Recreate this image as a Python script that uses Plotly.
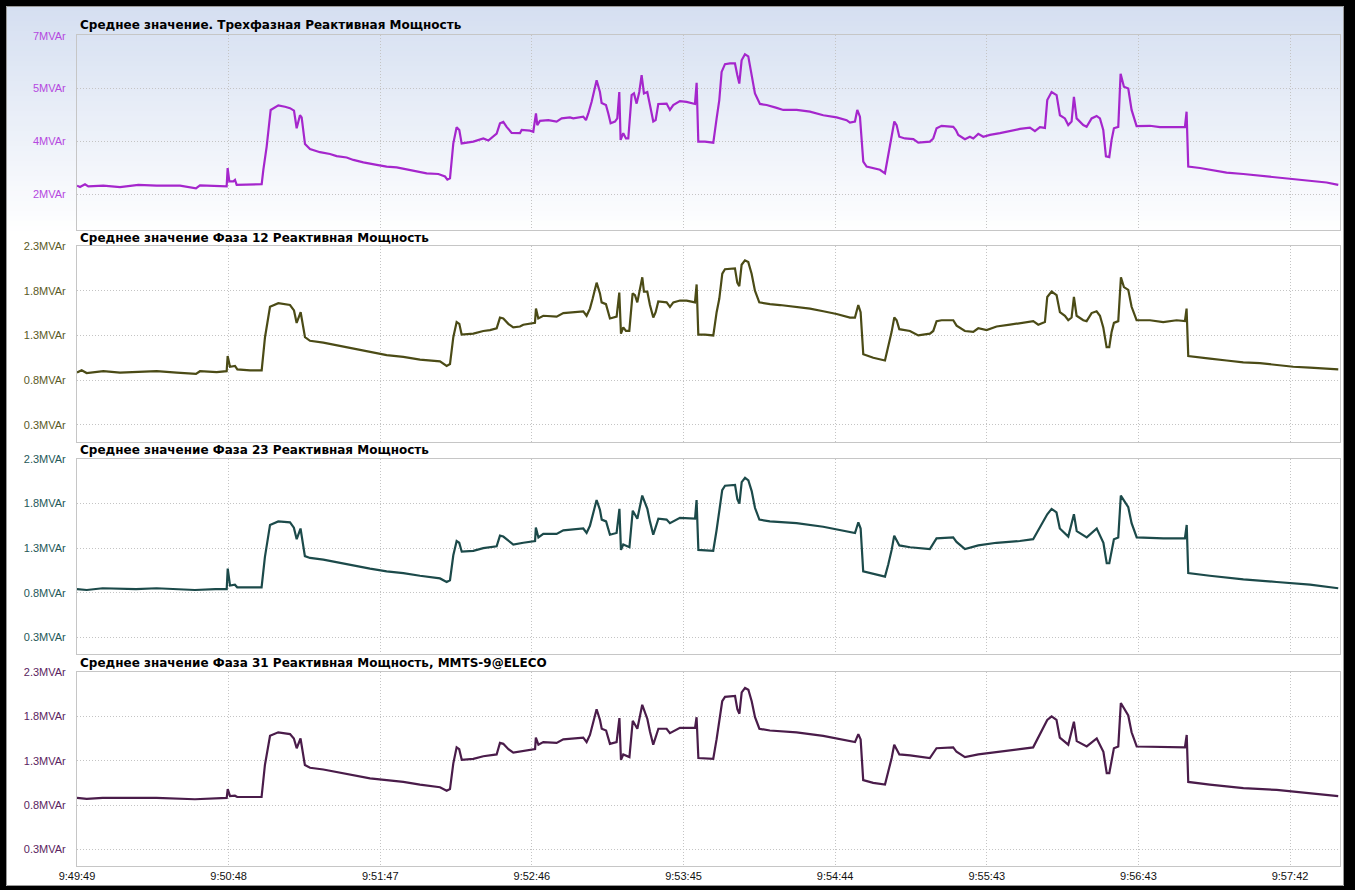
import plotly.graph_objects as go

# ---------------- data (seconds after 9:49:49, values in MVAr) ----------------
T_TOTAL = [0.0, 1.17, 3.12, 4.42, 10.27, 16.77, 23.93, 31.08, 40.18, 46.42, 47.98, 54.48, 58.38,
           58.77, 59.42, 60.98, 61.63, 62.29, 67.49, 72.04, 72.69, 73.99, 75.55, 78.54, 81.14,
           83.09, 84.65, 85.69, 86.99, 87.64, 88.94, 90.89, 94.79, 98.69, 101.29, 105.19, 107.8,
           111.7, 116.9, 120.8, 124.7, 128.6, 132.5, 136.4, 140.96, 143.56, 144.47, 145.51, 146.8,
           148.1, 149.14, 150.05, 154.61, 158.51, 160.46, 163.71, 165.01, 166.3, 167.6, 169.55,
           172.8, 173.45, 176.7, 178.0, 179.04, 179.56, 180.6, 183.86, 187.1, 189.06, 192.3, 193.6,
           197.5, 198.55, 199.46, 200.76, 202.71, 204.0, 204.66, 206.35, 207.26, 208.17, 209.86,
           210.77, 211.55, 212.07, 213.1, 214.15, 215.06, 216.36, 217.27, 218.31, 219.35, 220.26,
           221.17, 222.47, 223.51, 224.81, 225.73, 226.76, 230.0, 231.3, 232.6, 235.2, 237.8,
           241.07, 241.72, 242.37, 244.97, 248.22, 249.52, 250.56, 251.47, 252.77, 254.72, 256.67,
           257.58, 258.36, 259.27, 260.57, 261.87, 263.17, 264.47, 266.42, 269.02, 272.93, 275.53,
           280.73, 285.93, 291.13, 296.33, 300.23, 301.53, 303.48, 304.39, 305.43, 306.73, 308.03,
           310.63, 313.23, 315.19, 316.49, 317.79, 318.83, 319.74, 320.78, 322.99, 326.24, 328.18,
           332.73, 334.03, 335.33, 337.28, 339.23, 341.83, 342.87, 343.78, 346.38, 348.33, 349.64,
           351.59, 353.54, 356.14, 360.04, 363.94, 367.84, 371.74, 373.69, 375.64, 377.59, 378.5,
           380.19, 382.14, 383.44, 385.39, 386.69, 387.99, 388.9, 389.95, 392.55, 393.85, 395.8,
           397.75, 399.05, 400.35, 401.39, 402.69, 403.6, 404.51, 406.2, 407.11, 408.41, 410.1,
           411.4, 413.35, 418.55, 422.45, 427.65, 432.2, 432.85, 433.5, 438.05, 441.96, 448.46,
           454.96, 461.46, 467.96, 474.46, 480.97, 487.47, 492.02]
V_TOTAL = [2.54, 2.50, 2.58, 2.52, 2.54, 2.50, 2.56, 2.54, 2.54, 2.46, 2.55, 2.52, 2.52,
           3.04, 2.66, 2.66, 2.70, 2.56, 2.56, 2.58, 2.99, 3.65, 4.69, 4.82, 4.78,
           4.74, 4.67, 4.17, 4.54, 4.48, 3.72, 3.58, 3.49, 3.44, 3.38, 3.34, 3.27,
           3.20, 3.13, 3.08, 3.06, 3.01, 2.94, 2.89, 2.87, 2.80, 2.71, 2.75, 3.74,
           4.20, 4.12, 3.74, 3.79, 3.88, 3.82, 4.02, 4.31, 4.35, 4.21, 4.04,
           4.03, 4.12, 4.10, 4.07, 4.59, 4.26, 4.38, 4.40, 4.36, 4.45, 4.48, 4.45,
           4.50, 4.40, 4.59, 4.92, 5.53, 5.20, 4.89, 4.83, 4.59, 4.31, 4.36,
           4.45, 5.20, 3.84, 4.03, 3.88, 3.88, 5.11, 5.16, 4.87, 5.20, 5.68,
           5.16, 5.20, 4.83, 4.36, 4.40, 4.86, 4.87, 4.69, 4.83, 4.94, 4.92,
           4.86, 5.46, 3.79, 3.79, 3.76, 4.45, 4.97, 5.77, 5.99, 6.01, 6.01,
           5.68, 5.44, 6.10, 6.27, 6.21, 5.72, 5.16, 4.86, 4.83, 4.75, 4.69,
           4.69, 4.64, 4.54, 4.48, 4.40, 4.33, 4.36, 4.69, 4.50, 3.22, 3.08,
           3.04, 2.99, 2.89, 3.46, 3.93, 4.36, 4.26, 3.93, 3.88, 3.86, 3.76,
           3.79, 3.88, 4.17, 4.24, 4.23, 4.21, 4.12, 3.98, 3.86, 3.93, 3.88,
           4.01, 3.93, 3.98, 4.03, 4.10, 4.15, 4.19, 4.09, 4.20, 4.18, 4.97,
           5.20, 5.11, 4.54, 4.45, 4.26, 4.36, 5.06, 4.45, 4.26, 4.21, 4.45,
           4.52, 4.45, 4.12, 3.37, 3.35, 3.84, 4.17, 4.21, 5.72, 5.35, 5.30,
           4.69, 4.23, 4.24, 4.20, 4.21, 4.20, 4.64, 3.08, 3.04, 2.99, 2.91,
           2.87, 2.82, 2.78, 2.72, 2.69, 2.63, 2.56]

T_P12 = [0.0, 1.82, 3.77, 10.27, 16.77, 23.28, 31.08, 38.88, 46.42, 47.98, 54.48, 58.38, 58.77,
         59.68, 61.63, 62.55, 67.49, 72.04, 73.34, 75.29, 78.54, 83.09, 84.65, 85.69, 87.25,
         88.94, 90.89, 96.09, 101.29, 107.8, 114.3, 120.8, 127.3, 133.8, 141.6, 144.2, 145.51,
         146.8, 148.1, 149.14, 150.05, 154.61, 158.51, 161.11, 163.71, 165.01, 166.3, 168.25,
         170.2, 172.8, 174.1, 177.74, 178.65, 179.04, 179.95, 181.9, 187.1, 189.71, 192.96,
         197.5, 198.8, 200.1, 201.15, 202.71, 204.01, 204.66, 206.35, 207.91, 210.51, 211.55,
         212.2, 213.1, 214.15, 215.45, 216.75, 217.66, 218.57, 219.61, 220.52, 221.17, 222.47,
         223.51, 224.81, 225.73, 226.76, 230.02, 231.32, 232.62, 235.22, 237.82, 241.07, 241.72,
         242.37, 244.97, 248.22, 249.52, 250.56, 251.73, 252.77, 256.67, 257.58, 258.36, 259.27,
         260.57, 261.87, 263.17, 264.47, 266.16, 270.33, 274.23, 280.73, 285.93, 291.13, 296.33,
         301.53, 303.48, 304.78, 305.69, 306.73, 310.63, 315.19, 316.49, 317.79, 318.83, 319.74,
         320.78, 324.94, 328.18, 332.73, 334.03, 335.33, 337.28, 341.83, 343.13, 346.38, 349.64,
         351.59, 354.84, 358.74, 363.94, 367.84, 373.04, 374.99, 377.59, 378.5, 380.19, 382.14,
         383.44, 385.39, 386.69, 387.99, 388.9, 389.95, 392.55, 393.85, 395.8, 397.75, 399.05,
         400.35, 401.65, 402.69, 403.6, 404.51, 406.2, 407.24, 408.41, 410.1, 411.4, 413.35,
         418.55, 423.75, 428.95, 432.2, 432.85, 433.5, 438.05, 441.96, 448.46, 454.96, 461.46,
         467.96, 474.46, 480.97, 487.47, 492.02]
V_P12 = [0.885, 0.91, 0.88, 0.90, 0.885, 0.89, 0.90, 0.885, 0.87, 0.90, 0.89, 0.90, 1.07,
         0.95, 0.96, 0.92, 0.91, 0.91, 1.28, 1.62, 1.66, 1.64, 1.58, 1.44, 1.56,
         1.28, 1.24, 1.22, 1.19, 1.15, 1.11, 1.08, 1.06, 1.03, 1.01, 0.96, 0.98,
         1.28, 1.45, 1.43, 1.31, 1.32, 1.35, 1.36, 1.38, 1.50, 1.49, 1.43,
         1.39, 1.40, 1.42, 1.43, 1.44, 1.60, 1.49, 1.52, 1.51, 1.55, 1.56,
         1.57, 1.52, 1.60, 1.71, 1.89, 1.77, 1.67, 1.65, 1.49, 1.51, 1.78,
         1.32, 1.39, 1.35, 1.35, 1.77, 1.75, 1.67, 1.80, 1.95, 1.79, 1.79,
         1.64, 1.50, 1.56, 1.68, 1.67, 1.62, 1.67, 1.69, 1.69, 1.67, 1.87,
         1.31, 1.31, 1.30, 1.56, 1.71, 1.99, 2.04, 2.05, 1.89, 1.85, 2.09,
         2.14, 2.12, 1.99, 1.80, 1.67, 1.65, 1.64, 1.62, 1.60, 1.57, 1.54,
         1.50, 1.50, 1.64, 1.56, 1.09, 1.05, 1.02, 1.17, 1.34, 1.50, 1.47,
         1.37, 1.35, 1.30, 1.32, 1.35, 1.46, 1.47, 1.47, 1.41, 1.35, 1.34,
         1.38, 1.36, 1.40, 1.42, 1.44, 1.46, 1.42, 1.45, 1.73, 1.79, 1.75,
         1.56, 1.52, 1.47, 1.50, 1.73, 1.52, 1.47, 1.46, 1.55, 1.57, 1.52,
         1.39, 1.17, 1.17, 1.34, 1.44, 1.46, 1.95, 1.84, 1.81, 1.62, 1.47,
         1.47, 1.45, 1.47, 1.46, 1.60, 1.07, 1.05, 1.04, 1.02, 1.00, 0.99,
         0.97, 0.95, 0.94, 0.93, 0.92]

T_PHASE = [0.0, 3.8, 10.0, 23.0, 31.0, 46.0, 54.0, 58.4, 58.8, 59.7, 61.6, 62.5, 72.0, 73.3,
           75.3, 78.5, 83.1, 84.6, 85.7, 87.2, 88.9, 90.9, 96.1, 101.3, 107.8, 114.3, 120.8,
           127.3, 133.8, 141.6, 144.2, 145.5, 146.8, 148.1, 149.1, 150.1, 154.6, 158.5, 163.7,
           165.0, 166.3, 168.3, 170.2, 174.1, 178.7, 179.0, 180.0, 181.9, 187.1, 189.7, 197.5,
           198.8, 200.1, 202.7, 204.0, 204.7, 206.4, 207.9, 210.5, 211.6, 212.2, 213.1, 215.5,
           216.8, 218.6, 220.5, 222.5, 223.5, 224.8, 226.8, 230.0, 231.3, 235.2, 241.1, 241.7,
           242.4, 248.2, 249.5, 251.7, 252.8, 256.7, 257.6, 258.4, 259.3, 260.6, 261.9, 263.2,
           264.5, 266.2, 270.3, 280.7, 291.1, 301.5, 303.5, 304.8, 305.7, 306.7, 310.6, 315.2,
           316.5, 317.8, 318.8, 320.8, 325.0, 332.7, 335.3, 341.8, 343.1, 346.4, 351.6, 358.7,
           367.8, 373.0, 378.5, 380.2, 382.1, 383.4, 386.7, 388.9, 390.0, 393.9, 397.8, 400.4,
           401.7, 402.7, 404.5, 406.2, 407.2, 410.1, 411.4, 413.4, 423.8, 432.2, 432.9, 433.5,
           441.9, 455.0, 468.0, 481.0, 492.0]
V_P23 = [0.84, 0.83, 0.85, 0.84, 0.85, 0.83, 0.84, 0.84, 1.07, 0.88, 0.89, 0.86, 0.86, 1.20,
         1.56, 1.60, 1.59, 1.53, 1.40, 1.52, 1.21, 1.19, 1.17, 1.14, 1.11, 1.07, 1.04,
         1.02, 0.99, 0.96, 0.92, 0.94, 1.22, 1.38, 1.36, 1.26, 1.27, 1.30, 1.32,
         1.44, 1.43, 1.38, 1.34, 1.36, 1.38, 1.53, 1.42, 1.46, 1.46, 1.50, 1.52,
         1.47, 1.55, 1.84, 1.73, 1.62, 1.60, 1.45, 1.47, 1.74, 1.28, 1.34, 1.31,
         1.72, 1.63, 1.89, 1.74, 1.60, 1.45, 1.63, 1.62, 1.58, 1.64, 1.63, 1.84,
         1.28, 1.27, 1.50, 1.95, 2.00, 2.01, 1.85, 1.80, 2.04, 2.09, 2.06, 1.94,
         1.75, 1.62, 1.60, 1.58, 1.54, 1.48, 1.47, 1.59, 1.52, 1.04, 1.01, 0.98,
         1.12, 1.28, 1.44, 1.33, 1.31, 1.29, 1.41, 1.42, 1.37, 1.29, 1.33, 1.36,
         1.38, 1.40, 1.68, 1.74, 1.70, 1.52, 1.43, 1.68, 1.49, 1.42, 1.52, 1.36,
         1.13, 1.13, 1.40, 1.42, 1.89, 1.76, 1.58, 1.42, 1.41, 1.41, 1.56, 1.02,
         0.99, 0.95, 0.92, 0.89, 0.85]
V_P31 = [0.88, 0.87, 0.88, 0.875, 0.88, 0.865, 0.88, 0.88, 0.98, 0.90, 0.905, 0.89, 0.89, 1.25,
         1.58, 1.62, 1.60, 1.55, 1.44, 1.55, 1.25, 1.22, 1.20, 1.17, 1.14, 1.10, 1.08,
         1.06, 1.03, 1.00, 0.96, 0.98, 1.27, 1.45, 1.43, 1.31, 1.32, 1.35, 1.37,
         1.50, 1.49, 1.43, 1.39, 1.41, 1.43, 1.56, 1.48, 1.51, 1.50, 1.54, 1.56,
         1.51, 1.59, 1.88, 1.76, 1.66, 1.64, 1.49, 1.51, 1.78, 1.31, 1.37, 1.34,
         1.75, 1.66, 1.93, 1.77, 1.63, 1.48, 1.66, 1.66, 1.61, 1.67, 1.67, 1.79,
         1.33, 1.32, 1.54, 1.97, 2.02, 2.03, 1.88, 1.83, 2.07, 2.12, 2.10, 1.97,
         1.79, 1.66, 1.64, 1.62, 1.58, 1.52, 1.51, 1.60, 1.54, 1.08, 1.05, 1.03,
         1.17, 1.33, 1.48, 1.37, 1.36, 1.33, 1.44, 1.45, 1.40, 1.34, 1.37, 1.40,
         1.43, 1.45, 1.76, 1.80, 1.76, 1.56, 1.48, 1.74, 1.52, 1.46, 1.55, 1.40,
         1.16, 1.16, 1.44, 1.46, 1.95, 1.81, 1.62, 1.46, 1.45, 1.45, 1.59, 1.06,
         1.03, 0.99, 0.97, 0.93, 0.90]

TITLES = ["Среднее значение. Трехфазная Реактивная Мощность",
          "Среднее значение Фаза 12 Реактивная Мощность",
          "Среднее значение Фаза 23 Реактивная Мощность",
          "Среднее значение Фаза 31 Реактивная Мощность, MMTS-9@ELECO"]

X_TICK_SEC = [0, 59.15, 118.3, 177.45, 236.6, 295.75, 354.9, 414.05, 473.2]
X_TICK_LABELS = ["9:49:49", "9:50:48", "9:51:47", "9:52:46", "9:53:45",
                 "9:54:44", "9:55:43", "9:56:43", "9:57:42"]

Y1_TICKS = [2.3, 3.8, 5.3, 6.8]
Y1_LABELS = ["2MVAr", "4MVAr", "5MVAr", "7MVAr"]
YP_TICKS = [0.3, 0.8, 1.3, 1.8, 2.3]
YP_LABELS = ["0.3MVAr", "0.8MVAr", "1.3MVAr", "1.8MVAr", "2.3MVAr"]

# ---------------- styling ----------------
W, H = 1355, 890
LINE_COLORS = ["#a526cc", "#4b4b16", "#1c4a4a", "#4a1c4a"]
LABEL_COLORS = ["#b548e0", "#5a5a26", "#245858", "#5a2460"]
PLOT_TOPS = [35.3, 246, 459, 672]
PLOT_BOTS = [230, 441.7, 654, 866]
TITLE_Y = [25, 238, 450, 663]
X_LEFT, X_RIGHT = 77, 1340
GRID = dict(showgrid=True, gridcolor="#c4c4c4", griddash="1px,2px", gridwidth=1)

series = [(T_TOTAL, V_TOTAL), (T_P12, V_P12), (T_PHASE, V_P23), (T_PHASE, V_P31)]
yranges = [[1.28, 6.81], [0.112, 2.3], [0.112, 2.3], [0.112, 2.3]]

fig = go.Figure()
for i, (t, v) in enumerate(series):
    n = "" if i == 0 else str(i + 1)
    fig.add_trace(go.Scatter(x=t, y=v, mode="lines", xaxis="x" + n, yaxis="y" + n,
                             line=dict(color=LINE_COLORS[i], width=2.2), showlegend=False,
                             hoverinfo="skip"))
    xa = dict(domain=[X_LEFT / W, X_RIGHT / W], range=[0, 492.7], anchor="y" + n,
              tickvals=X_TICK_SEC, ticktext=X_TICK_LABELS, showticklabels=(i == 3),
              showline=True, mirror=True, linecolor="#c6c6c6", linewidth=1,
              zeroline=False, ticks="", automargin=False,
              tickfont=dict(family="Liberation Sans", size=11, color="#111111"), **GRID)
    ya = dict(domain=[1 - PLOT_BOTS[i] / H, 1 - PLOT_TOPS[i] / H], range=yranges[i],
              anchor="x" + n,
              tickvals=Y1_TICKS if i == 0 else YP_TICKS,
              ticktext=Y1_LABELS if i == 0 else YP_LABELS,
              showline=True, mirror=True, linecolor="#c6c6c6", linewidth=1,
              zeroline=False, ticks="", ticklabelstandoff=8, automargin=False,
              tickfont=dict(family="Liberation Sans", size=11, color=LABEL_COLORS[i]), **GRID)
    fig.layout["xaxis" + n] = xa
    fig.layout["yaxis" + n] = ya

annotations = []
for i, title in enumerate(TITLES):
    annotations.append(dict(text="<b>" + title + "</b>", xref="paper", yref="paper",
                            x=78 / W, y=1 - TITLE_Y[i] / H, xanchor="left", yanchor="middle",
                            showarrow=False, font=dict(family="DejaVu Sans", size=12, color="#000000")))

shapes = []
# gradient background in the top band
g_top, g_bot, steps = 6, 236, 46
c0, c1 = (213, 223, 241), (255, 255, 255)
for k in range(steps):
    y0 = g_top + (g_bot - g_top) * k / steps
    y1 = g_top + (g_bot - g_top) * (k + 1) / steps
    f = k / (steps - 1)
    col = "rgb(%d,%d,%d)" % tuple(round(c0[j] + (c1[j] - c0[j]) * f) for j in range(3))
    shapes.append(dict(type="rect", xref="paper", yref="paper", x0=0, x1=1,
                       y0=1 - (y1 + 0.5) / H, y1=1 - y0 / H, fillcolor=col, line=dict(width=0),
                       layer="below"))
# black frame
for (x0, x1, y0, y1) in [(0, 6, 0, H), (1344, W, 0, H), (0, W, 0, 6), (0, W, 886, H)]:
    shapes.append(dict(type="rect", xref="paper", yref="paper", x0=x0 / W, x1=x1 / W,
                       y0=1 - y1 / H, y1=1 - y0 / H, fillcolor="#000000", line=dict(width=0),
                       layer="above"))
shapes.append(dict(type="rect", xref="paper", yref="paper", x0=6.5 / W, x1=1343.5 / W,
                   y0=1 - 885.5 / H, y1=1 - 6.5 / H, line=dict(color="#9a9a9a", width=1),
                   fillcolor="rgba(0,0,0,0)", layer="above"))

fig.update_layout(width=W, height=H, margin=dict(l=0, r=0, t=0, b=0, autoexpand=False),
                  paper_bgcolor="#ffffff", plot_bgcolor="rgba(0,0,0,0)",
                  annotations=annotations, shapes=shapes, showlegend=False)

fig.write_html("out.html", config={"displayModeBar": False, "staticPlot": True},
               post_script="document.body.style.margin='0';document.body.style.overflow='hidden';")
